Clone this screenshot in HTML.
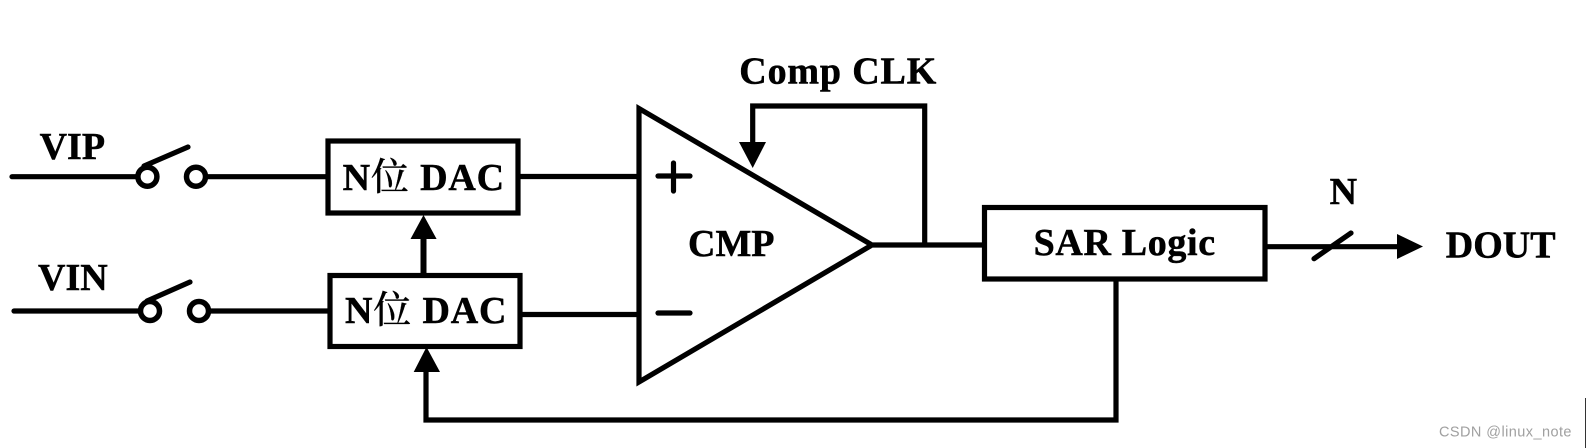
<!DOCTYPE html>
<html><head><meta charset="utf-8"><style>
html,body{margin:0;padding:0;background:#fff}
svg{display:block}
text{font-family:"Liberation Serif","Noto Serif CJK SC",serif;font-weight:bold;font-size:38px;fill:#000;stroke:#000;stroke-width:.5px}
</style></head><body>
<svg width="1586" height="448" viewBox="0 0 1586 448" xmlns="http://www.w3.org/2000/svg">
<rect width="1586" height="448" fill="#fff"/>
<g fill="none" stroke="#000" stroke-width="5.2" stroke-linecap="round" stroke-linejoin="miter">
<path d="M12 176.7H137M206 176.7H326"/>
<circle cx="147.4" cy="176.7" r="9.5" stroke-width="5.5"/><circle cx="196" cy="176.7" r="9.5" stroke-width="5.5"/>
<path d="M144 166L188 147"/>
<path d="M14 311H139M209 311H328"/>
<circle cx="150" cy="311" r="9.5" stroke-width="5.5"/><circle cx="199" cy="311" r="9.5" stroke-width="5.5"/>
<path d="M147 301L190 282"/>
<rect x="328" y="141" width="190" height="72"/>
<rect x="330" y="275.5" width="190" height="71"/>
<path d="M520 176.5H637M522 314.5H637"/>
<path d="M639 108.5V382L872 245Z"/>
<path d="M658 176H690M673.5 163V191M658 313H690"/>
<path d="M873 245H982M924.7 245V106H752.7V145" stroke-linecap="butt"/>
<rect x="984.5" y="207.5" width="280.5" height="71.5"/>
<path d="M1267 246.7H1398M1314 258.7L1351 233"/>
<path d="M1116 281V420H426V370" stroke-linecap="butt"/>
<path d="M423.5 273V238" stroke-width="6" stroke-linecap="butt"/>
</g>
<g fill="#000">
<path d="M423.5 215L410.5 239H436.6Z"/>
<path d="M739 142H766L752.7 168Z"/>
<path d="M1397 234L1423 246.5L1397 259Z"/>
<path d="M426.5 347L413.7 372H440Z"/>
</g>
<text x="39.6" y="159">VIP</text>
<text x="38" y="290">VIN</text>
<text x="342.6" y="190" textLength="161.5">N<tspan style="font-family:'Noto Serif CJK SC',serif;font-weight:500;stroke-width:.2px">位</tspan> DAC</text>
<text x="345" y="323" textLength="161.5">N<tspan style="font-family:'Noto Serif CJK SC',serif;font-weight:500;stroke-width:.2px">位</tspan> DAC</text>
<text x="688" y="256">CMP</text>
<text x="739.3" y="83.3" textLength="197">Comp CLK</text>
<text x="1033.6" y="255" textLength="181.5">SAR Logic</text>
<text x="1329.6" y="204">N</text>
<text x="1445.8" y="257.5">DOUT</text>
<text x="1439" y="436.5" style="font-family:'Liberation Sans',sans-serif;font-weight:normal;font-size:14.5px;fill:#a0a0a0;stroke:none" textLength="132.5">CSDN @linux_note</text>
<rect x="1585" y="398" width="1" height="50" fill="#333"/>
</svg>
</body></html>
